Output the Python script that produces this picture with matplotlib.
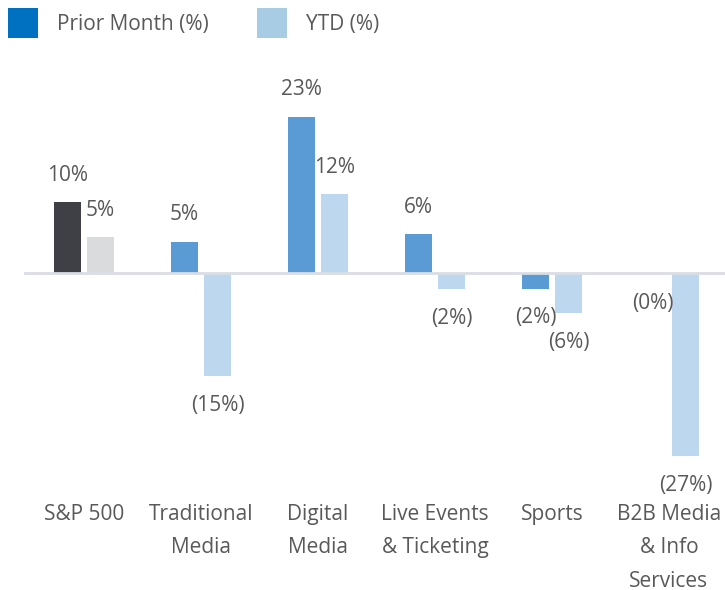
import numpy as np
import matplotlib.pyplot as plt
from matplotlib.patches import Patch
from matplotlib.transforms import blended_transform_factory

# Data
categories = ['S&P 500', 'Traditional\nMedia', 'Digital\nMedia',
              'Live Events\n& Ticketing', 'Sports', 'B2B Media\n& Info\nServices']
prior_month = [10.4, 4.6, 23.0, 5.7, -2.3, -0.2]
ytd = [5.3, -15.2, 11.6, -2.4, -5.9, -26.9]

prior_colors = ['#3F4045', '#5B9BD5', '#5B9BD5', '#5B9BD5', '#5B9BD5', '#5B9BD5']
ytd_colors = ['#DADBDD', '#BDD7EE', '#BDD7EE', '#BDD7EE', '#BDD7EE', '#BDD7EE']
text_color = '#595959'
fs = 15

plt.rcParams['font.family'] = ['Open Sans', 'DejaVu Sans']

fig = plt.figure(figsize=(7.25, 5.9), dpi=100)
ax = fig.add_axes([0, 0, 1, 1])
ax.set_xlim(-0.718, 5.479)
ax.set_ylim(-46.6, 40.15)
ax.axis('off')

x = np.arange(len(categories))
w = 0.231
off = 0.141

b1 = ax.bar(x - off, prior_month, w, color=prior_colors, zorder=2)
b2 = ax.bar(x + off, ytd, w, color=ytd_colors, zorder=2)

ax.axhline(0, xmin=25 / 725, xmax=1, color='#D9DEE5', lw=2, zorder=3)


def fmt(v):
    r = int(round(abs(v)))
    return f'{r}%' if v >= 0 else f'({r}%)'


for bars, vals in [(b1, prior_month), (b2, ytd)]:
    for bar, v in zip(bars, vals):
        cx = bar.get_x() + bar.get_width() / 2
        dy = 19.4 if v >= 0 else -21
        ax.annotate(fmt(v), (cx, v), xytext=(0, dy), textcoords='offset points',
                    ha='center', va='center', fontsize=fs, color=text_color)

trans = blended_transform_factory(ax.transData, ax.transAxes)
for xi, cat in zip(x, categories):
    ax.text(xi, (590 - 504) / 590, cat, transform=trans, ha='center', va='top',
            fontsize=fs, color=text_color, linespacing=1.78)

handles = [Patch(facecolor='#0070C0', label='Prior Month (%)'),
           Patch(facecolor='#A9CCE5', label='YTD (%)')]
leg = ax.legend(handles=handles, loc='upper left', bbox_to_anchor=(8 / 725, 1 - 8 / 590),
                ncol=2, frameon=False, fontsize=fs, handlelength=1.44, handleheight=1.85,
                handletextpad=0.92, columnspacing=2.3, borderaxespad=0, borderpad=0)
for t in leg.get_texts():
    t.set_color(text_color)

fig.savefig('out.png', dpi=100)
